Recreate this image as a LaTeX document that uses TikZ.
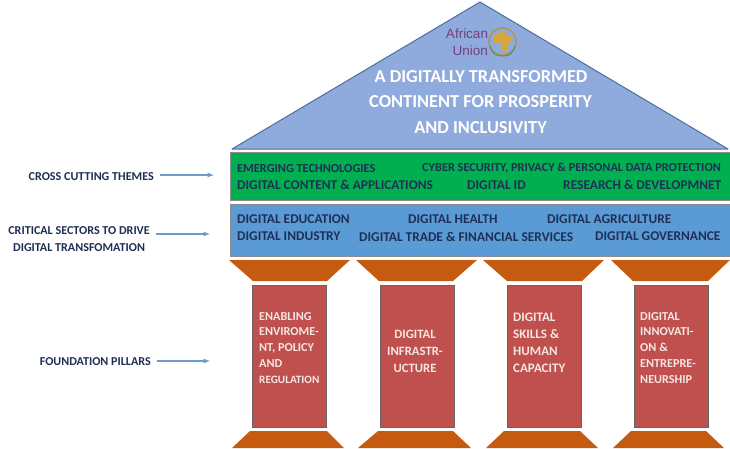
\documentclass[tikz,border=0pt]{standalone}
\usepackage{fontspec}
\setmainfont{Carlito}
\newfontfamily\logofont{Liberation Sans}
\definecolor{roofblue}{HTML}{8FAADC}
\definecolor{roofedge}{HTML}{4C6E9C}
\definecolor{bandgreen}{HTML}{00B050}
\definecolor{bandblue}{HTML}{5B9BD5}
\definecolor{capbrown}{HTML}{C55A11}
\definecolor{pillarred}{HTML}{C0504D}
\definecolor{pillartext}{HTML}{F6E6E2}
\definecolor{inknavy}{HTML}{1F2F55}
\definecolor{arrowblue}{HTML}{6F9BC8}
\definecolor{logopurple}{HTML}{7A3E7E}
\definecolor{logoring}{HTML}{A8985F}
\definecolor{logowreath}{HTML}{5F8A55}
\definecolor{logogold}{HTML}{D8A63F}
\tikzset{
	roof/.style={fill=roofblue,draw=roofedge,line width=1pt,line join=round},
	band/.style={draw=black!45,line width=0.6pt,minimum width=500pt,minimum height=#1,inner sep=0pt,anchor=north west},
	capping/.style={fill=capbrown},
	pillar/.style={fill=pillarred,draw=black!60,line width=0.6pt,minimum width=74pt,minimum height=142pt,inner sep=0pt,anchor=north west},
	bandtext/.style={font=\fontsize{13.4}{15}\selectfont\bfseries,text=inknavy,inner sep=0pt,anchor=west},
	smallband/.style={bandtext,font=\fontsize{12.3}{14}\selectfont\bfseries},
	titletext/.style={font=\fontsize{18.3}{22}\selectfont\bfseries,text=white,inner sep=0pt},
	pillartxt/.style={font=\fontsize{12.2}{15.7}\selectfont\bfseries,text=pillartext,inner sep=0pt,align=left,anchor=north west},
	sidelabel/.style={font=\fontsize{12.1}{17}\selectfont\bfseries,text=inknavy,inner xsep=6pt,inner ysep=0pt,align=center,anchor=east},
	sidearrow/.style={draw=arrowblue,line width=1.2pt,-latex},
}
\begin{document}
\begin{tikzpicture}[x=1pt,y=-1pt]
	\useasboundingbox (0,0) rectangle (730,448);
	\fill [white] (0,0) rectangle (730,448);
	\draw [roof] (480,2) -- (728,149) -- (232,149) -- cycle;
	\node (union) at (467,42) [font=\fontsize{13.5}{17}\selectfont\logofont,text=logopurple,align=right,inner sep=0pt] {African\\Union};
	\draw [draw=logoring,line width=1.6pt] (502.5,41.5) circle (13.5);
	\draw [draw=logowreath,line width=1pt] (490,46) .. controls (492,55) and (498,56) .. (502.5,56) .. controls (507,56) and (513,55) .. (515,46);
	\fill [logogold] (497,33) -- (504,32) -- (508,36) -- (513,37) -- (509,44) -- (506,52) -- (503,52) -- (501,44) -- (494,43) -- (493,37) -- cycle;
	\node (titleone) at (481,77) [titletext] {A DIGITALLY TRANSFORMED};
	\node (titletwo) at (480.5,102) [titletext] {CONTINENT FOR PROSPERITY};
	\node (titlethree) at (480.5,128) [titletext] {AND INCLUSIVITY};
	\node (greenband) at (230,152) [band=48pt,fill=bandgreen] {};
	\node (blueband) at (230,204) [band=52pt,fill=bandblue] {};
	\node (emerging) at (237,168.5) [smallband] {EMERGING TECHNOLOGIES};
	\node (cyber) at (422,168.5) [smallband] {CYBER SECURITY, PRIVACY \& PERSONAL DATA PROTECTION};
	\node (content) at (237,185) [bandtext] {DIGITAL CONTENT \& APPLICATIONS};
	\node (digitalid) at (467,185) [bandtext] {DIGITAL ID};
	\node (research) at (563,185) [bandtext] {RESEARCH \& DEVELOPMNET};
	\node (education) at (237,219.5) [bandtext] {DIGITAL EDUCATION};
	\node (health) at (408,219.5) [bandtext] {DIGITAL HEALTH};
	\node (agriculture) at (547,219.5) [bandtext] {DIGITAL AGRICULTURE};
	\node (industry) at (237,236.5) [bandtext] {DIGITAL INDUSTRY};
	\node (trade) at (359,236.5) [bandtext] {DIGITAL TRADE \& FINANCIAL SERVICES};
	\node (governance) at (595,236.5) [bandtext] {DIGITAL GOVERNANCE};
	\fill [capping] (229,260) -- (350,260) -- (327,281) -- (253,281) -- cycle;
	\fill [capping] (356,260) -- (477,260) -- (453,281) -- (379,281) -- cycle;
	\fill [capping] (483,260) -- (604,260) -- (582,281) -- (507,281) -- cycle;
	\fill [capping] (611,260) -- (730,260) -- (708,281) -- (633,281) -- cycle;
	\node (pillarone) at (252,285) [pillar] {};
	\node (pillartwo) at (379.5,285) [pillar] {};
	\node (pillarthree) at (507,285) [pillar] {};
	\node (pillarfour) at (634,285) [pillar] {};
	\node (enabling) at (259,312) [pillartxt] {ENABLING\\ENVIROME-\\NT, POLICY\\AND\\{\fontsize{11.2}{15.7}\selectfont REGULATION}};
	\node (infra) at (415,330) [pillartxt,align=center,anchor=north,font=\fontsize{12.7}{17}\selectfont\bfseries] {DIGITAL\\INFRASTR-\\UCTURE};
	\node (skills) at (513,313) [pillartxt,font=\fontsize{13}{17}\selectfont\bfseries] {DIGITAL\\SKILLS \&\\HUMAN\\CAPACITY};
	\node (innovation) at (640,312) [pillartxt] {DIGITAL\\INNOVATI-\\ON \&\\ENTREPRE-\\NEURSHIP};
	\fill [capping] (250,431) -- (327,431) -- (344,448) -- (232,448) -- cycle;
	\fill [capping] (378,431) -- (453,431) -- (471,448) -- (358,448) -- cycle;
	\fill [capping] (504,431) -- (580,431) -- (598,448) -- (486,448) -- cycle;
	\fill [capping] (631,431) -- (706,431) -- (724,448) -- (613,448) -- cycle;
	\node (crosslabel) at (160,177) [sidelabel] {CROSS CUTTING THEMES};
	\node (sectorlabel) at (156,239) [sidelabel] {CRITICAL SECTORS TO DRIVE\\DIGITAL TRANSFOMATION};
	\node (pillarlabel) at (157,362) [sidelabel] {FOUNDATION PILLARS};
	\coordinate (crosstip) at (214,175);
	\coordinate (sectortip) at (210,234);
	\coordinate (pillartip) at (210,361);
	\draw [sidearrow] (crosslabel.east |- crosstip) -- (crosstip);
	\draw [sidearrow] (sectorlabel.east |- sectortip) -- (sectortip);
	\draw [sidearrow] (pillarlabel.east |- pillartip) -- (pillartip);
\end{tikzpicture}
\end{document}
